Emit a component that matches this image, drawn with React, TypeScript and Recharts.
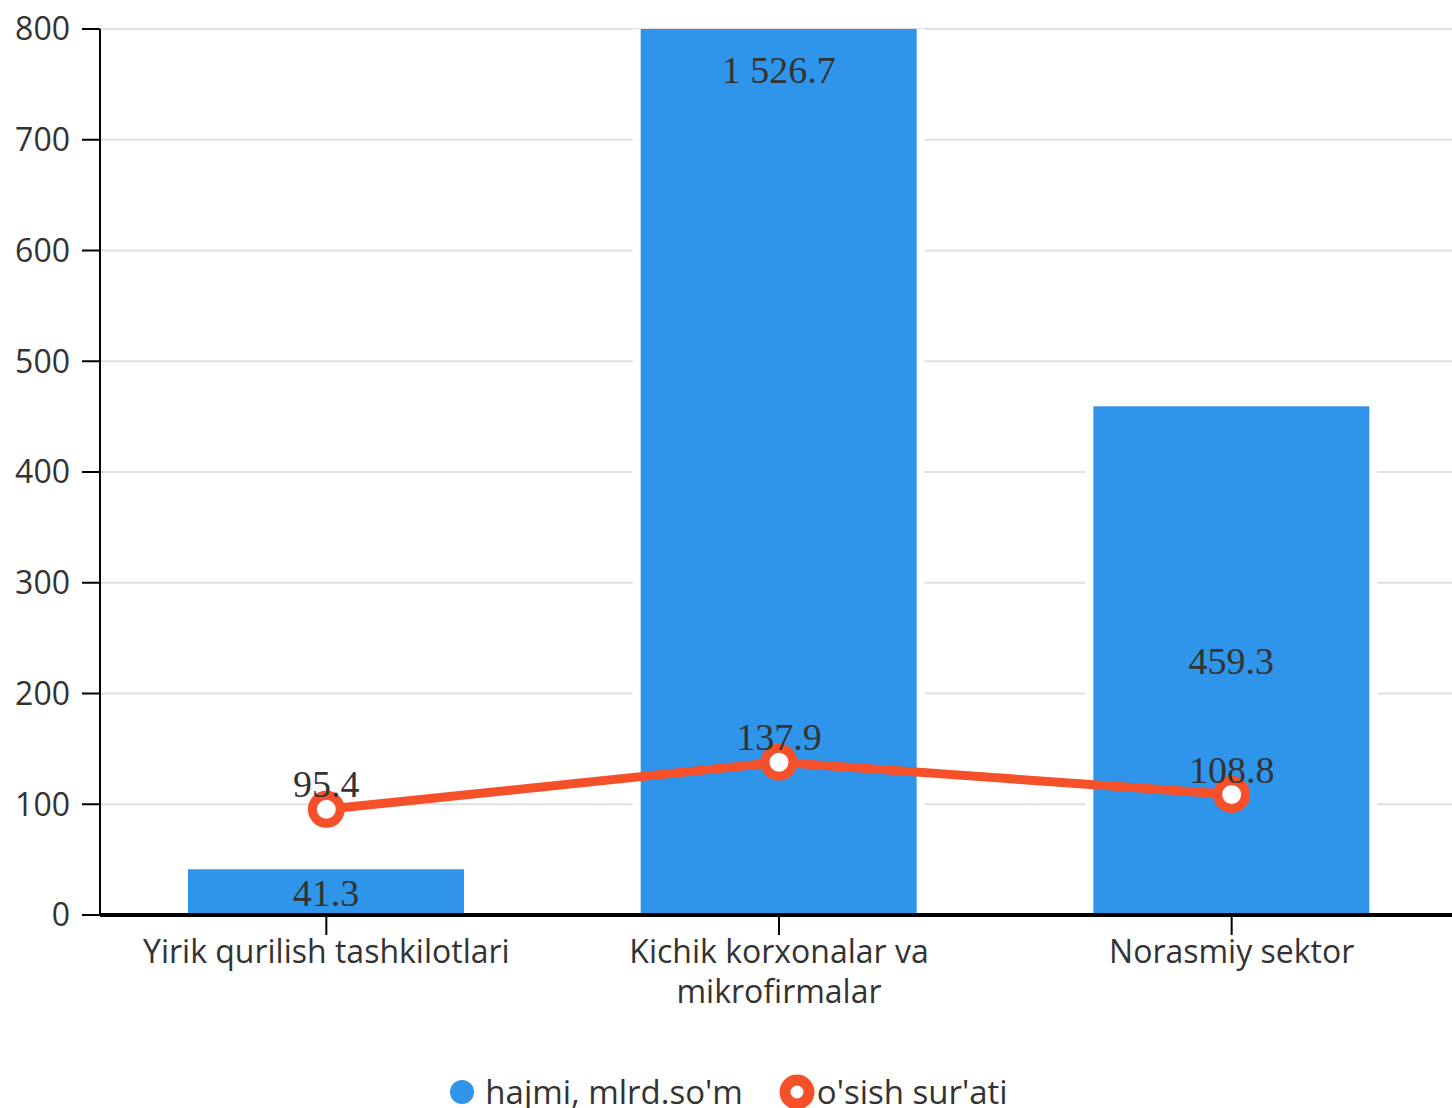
import { ComposedChart, Bar, Line, XAxis, YAxis, CartesianGrid, Legend, LabelList } from 'recharts';

const categories = ['Yirik qurilish tashkilotlari', 'Kichik korxonalar va mikrofirmalar', 'Norasmiy sektor'];
const volume = [41.3, 1526.7, 459.3];
const growth = [95.4, 137.9, 108.8];
const yTicks = [0, 100, 200, 300, 400, 500, 600, 700, 800];
const seriesNames = ["hajmi, mlrd.so'm", "o'sish sur'ati"];

const BLUE = '#2F95EA';
const ORANGE = '#F5502A';
const INK = '#333333';
const SANS = '"Open Sans", sans-serif';
const SERIF = '"Liberation Serif", "Times New Roman", serif';

const rows = categories.map((name, i) => ({ name, volume: volume[i], growth: growth[i] }));

// 1526.7 -> "1 526.7"
const fmt = (v: any) => {
  const [int, dec] = Number(v).toFixed(1).split('.');
  return int.replace(/\B(?=(\d{3})+(?!\d))/g, ' ') + '.' + dec;
};

// greedy word wrap by character count
const wrap = (s: string, max = 28) => {
  const lines: string[] = [];
  let cur = '';
  for (const w of s.split(' ')) {
    const next = cur ? cur + ' ' + w : w;
    if (next.length > max && cur) { lines.push(cur); cur = w; } else cur = next;
  }
  if (cur) lines.push(cur);
  return lines;
};

// white backing knocks the gridlines out around each bar
function BarShape(props: any) {
  const { x, y, width, height } = props;
  return (
    <g>
      <rect x={x - 8} y={y - 8} width={width + 16} height={height + 8} fill="#fff" />
      <rect x={x} y={y} width={width} height={height} fill={BLUE} />
    </g>
  );
}

function CategoryTick({ x, y, payload }: any) {
  const lines = wrap(String(payload.value));
  return (
    <text x={x} y={y} textAnchor="middle" fill={INK} fontFamily={SANS} fontSize={32}>
      {lines.map((l, i) => (
        <tspan key={i} x={x} dy={i === 0 ? 15 : 40}>{l}</tspan>
      ))}
    </text>
  );
}

function LegendContent() {
  return (
    <div style={{ height: 73, position: 'relative', fontFamily: SANS, fontSize: 33, color: INK }}>
      <div style={{ position: 'absolute', top: 37, left: 0, right: 0, display: 'flex', justifyContent: 'center', alignItems: 'center', lineHeight: '40px' }}>
        <svg width={24} height={24} style={{ marginRight: 11 }}>
          <circle cx={12} cy={12} r={12} fill={BLUE} />
        </svg>
        <span style={{ marginRight: 36 }}>{seriesNames[0]}</span>
        <svg width={36} height={36} style={{ marginRight: 2 }}>
          <circle cx={18} cy={18} r={12} fill="#fff" stroke={ORANGE} strokeWidth={11} />
        </svg>
        <span>{seriesNames[1]}</span>
      </div>
    </div>
  );
}

export default function App() {
  return (
    <div style={{ width: 1452, height: 1108, overflow: 'hidden', background: '#fff' }}>
      <style>{'body{margin:0}'}</style>
      <ComposedChart width={1458} height={1108} data={rows} margin={{ top: 29, right: 0, left: 0, bottom: 0 }}>
        <CartesianGrid vertical={false} stroke="#e0e0e0" strokeWidth={2} />
        <XAxis dataKey="name" height={120} interval={0} tick={<CategoryTick />}
          axisLine={{ stroke: '#000', strokeWidth: 4 }} tickLine={{ stroke: '#000', strokeWidth: 2 }}
          tickSize={20} tickMargin={13} />
        <YAxis width={100} domain={[0, 800]} ticks={yTicks} allowDataOverflow
          axisLine={{ stroke: '#000', strokeWidth: 2 }} tickLine={{ stroke: '#000', strokeWidth: 2 }}
          tickSize={18} tickMargin={12}
          tick={{ fill: INK, fontSize: 32, fontFamily: SANS }} />
        <Legend verticalAlign="bottom" content={<LegendContent />} />
        <Bar dataKey="volume" name={seriesNames[0]} barSize={276} shape={<BarShape />} isAnimationActive={false}>
          <LabelList dataKey="volume" position="center" formatter={fmt}
            fill={INK} fontSize={38} fontFamily={SERIF} />
        </Bar>
        <Line type="linear" dataKey="growth" name={seriesNames[1]} stroke={ORANGE} strokeWidth={9}
          dot={{ r: 14, fill: '#fff', stroke: ORANGE, strokeWidth: 9 }} activeDot={false} isAnimationActive={false}>
          <LabelList dataKey="growth" position="top" offset={12} formatter={fmt}
            fill={INK} fontSize={38} fontFamily={SERIF} />
        </Line>
      </ComposedChart>
    </div>
  );
}
